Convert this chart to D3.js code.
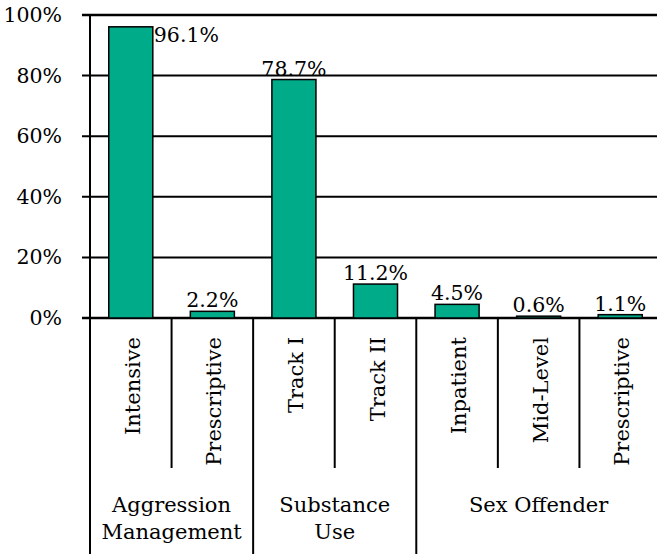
<!DOCTYPE html>
<html>
<head>
<meta charset="utf-8">
<script src="https://cdn.jsdelivr.net/npm/d3@7"></script>
<style>
  body { margin: 0; background: #fff; }
  text { font-family: "DejaVu Serif", serif; fill: #000; }
</style>
</head>
<body>
<div id="chart"></div>
<script>
  // data
  var programs = ["Intensive", "Prescriptive", "Track I", "Track II", "Inpatient", "Mid-Level", "Prescriptive"];
  var values = [96.1, 2.2, 78.7, 11.2, 4.5, 0.6, 1.1];
  var groupLabels = [["Aggression", "Management"], ["Substance", "Use"], ["Sex Offender"]];
  var groupSpans = [2, 2, 3];
  var yTicks = [0, 20, 40, 60, 80, 100];

!function () {
  "use strict";

  var W = 657, H = 554;
  var plotLeft = 90, plotRight = 661, plotTop = 15, zero = 318;
  var fontSize = "20.5px", catFont = "21px";

  var svg = d3.select("#chart").append("svg")
    .attr("width", W).attr("height", H);

  var idx = d3.range(programs.length);
  var x = d3.scaleBand().domain(idx).range([plotLeft, plotRight]);
  var y = d3.scaleLinear().domain([0, 100]).range([zero, plotTop]);
  var barW = x.bandwidth() * 0.54;

  // gridlines
  svg.append("g").selectAll("line")
    .data(yTicks)
    .enter().append("line")
      .attr("x1", plotLeft - 8).attr("x2", W)
      .attr("y1", d => y(d)).attr("y2", d => y(d))
      .attr("stroke", "#000")
      .attr("stroke-width", d => (d === 0 || d === 100) ? 2.6 : 2);

  // y axis labels
  var yAxis = d3.axisLeft(y).tickValues(yTicks).tickSize(0).tickPadding(28)
    .tickFormat(d => d + "%");
  var ya = svg.append("g").attr("transform", "translate(" + plotLeft + ",0)").call(yAxis);
  ya.select(".domain").remove();
  ya.selectAll("text").style("font-family", "DejaVu Serif, serif").style("font-size", fontSize).attr("fill", "#000");

  // bars
  svg.append("g").selectAll("rect")
    .data(values)
    .enter().append("rect")
      .attr("x", (d, i) => x(i) + (x.bandwidth() - barW) / 2)
      .attr("width", barW)
      .attr("y", d => y(d))
      .attr("height", d => zero - y(d))
      .attr("fill", "#00AB8A")
      .attr("stroke", "#000")
      .attr("stroke-width", 1.5);

  // value labels
  svg.append("g").selectAll("text")
    .data(values)
    .enter().append("text")
      .attr("x", (d, i) => d > 90 ? x(i) + (x.bandwidth() + barW) / 2 + 1 : x(i) + x.bandwidth() / 2)
      .attr("y", d => d > 90 ? y(d) + 15 : y(d) - 4)
      .attr("text-anchor", d => d > 90 ? "start" : "middle")
      .style("font-size", fontSize)
      .text(d => d.toFixed(1) + "%");

  // y axis line
  svg.append("line")
    .attr("x1", plotLeft).attr("x2", plotLeft).attr("y1", plotTop - 1).attr("y2", H)
    .attr("stroke", "#000").attr("stroke-width", 2);

  // category separators
  var groupEdges = [];
  var acc = 0;
  groupSpans.forEach(s => { groupEdges.push(acc); acc += s; });
  groupEdges.push(acc);
  d3.range(1, programs.length + 1).forEach(function (i) {
    var xx = i < programs.length ? x(i) : plotRight;
    var isGroup = groupEdges.indexOf(i) >= 0;
    svg.append("line")
      .attr("x1", xx).attr("x2", xx)
      .attr("y1", zero).attr("y2", isGroup ? H : 468)
      .attr("stroke", "#000").attr("stroke-width", 2);
  });

  // program labels (rotated)
  svg.append("g").selectAll("text")
    .data(programs)
    .enter().append("text")
      .attr("transform", (d, i) => "translate(" + (x(i) + x.bandwidth() / 2 + 9) + ",337)rotate(-90)")
      .attr("text-anchor", "end")
      .style("font-size", catFont)
      .text(d => d);

  // group labels
  groupLabels.forEach(function (lines, g) {
    var x0 = x(groupEdges[g]);
    var x1 = groupEdges[g + 1] < programs.length ? x(groupEdges[g + 1]) : plotRight;
    var t = svg.append("text")
      .attr("text-anchor", "middle")
      .style("font-size", catFont);
    lines.forEach(function (l, k) {
      t.append("tspan")
        .attr("x", (x0 + x1) / 2)
        .attr("y", 512 + k * 27)
        .text(l);
    });
  });
}();
</script>
</body>
</html>
